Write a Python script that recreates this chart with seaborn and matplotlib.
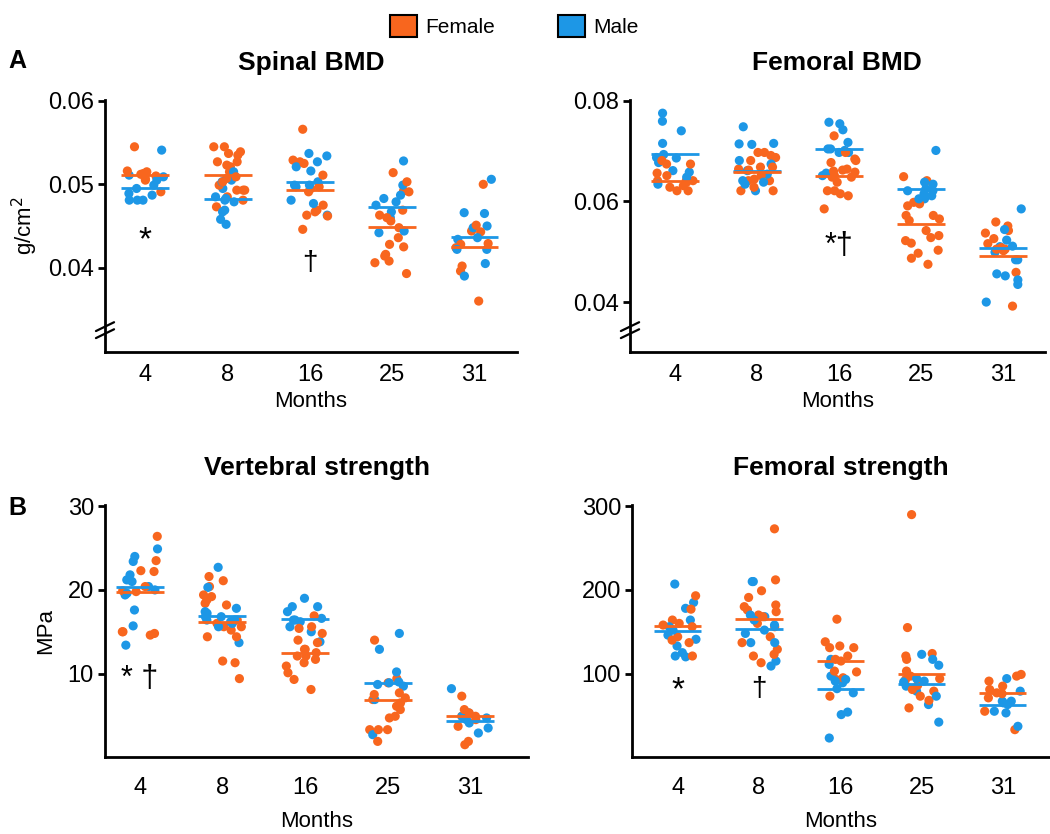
import numpy as np
import pandas as pd
import seaborn as sns
import matplotlib.pyplot as plt
from matplotlib.patches import Patch

months = ["4", "8", "16", "25", "31"]

# Spinal BMD (g/cm2), one list per month
spinal_female = [
    [0.0545, 0.0516, 0.0515, 0.0513, 0.0512, 0.0510, 0.0507, 0.0505, 0.0491],
    [0.0545, 0.0545, 0.0539, 0.0535, 0.0537, 0.0527, 0.0527, 0.0523, 0.0521, 0.0515,
     0.0509, 0.0507, 0.0503, 0.0499, 0.0493, 0.0493, 0.0493, 0.0485, 0.0481, 0.0473],
    [0.0566, 0.0527, 0.0529, 0.0525, 0.0511, 0.0491, 0.0497, 0.0475, 0.0469, 0.0463,
     0.0462, 0.0446, 0.0467, 0.0495],
    [0.0514, 0.0503, 0.0492, 0.0491, 0.0469, 0.0463, 0.0456, 0.0448, 0.0436, 0.0428,
     0.0425, 0.0416, 0.0414, 0.0406, 0.0393, 0.0408, 0.0460],
    [0.0500, 0.0451, 0.0444, 0.0443, 0.0429, 0.0428, 0.0402, 0.0396, 0.0360, 0.0424],
]
spinal_male = [
    [0.0541, 0.0511, 0.0505, 0.0499, 0.0495, 0.0487, 0.0489, 0.0481, 0.0481, 0.0481, 0.0509],
    [0.0515, 0.0505, 0.0503, 0.0495, 0.0485, 0.0483, 0.0481, 0.0479, 0.0458, 0.0452,
     0.0469, 0.0467],
    [0.0537, 0.0534, 0.0527, 0.0521, 0.0516, 0.0499, 0.0499, 0.0497, 0.0481, 0.0477,
     0.0463, 0.0503],
    [0.0528, 0.0499, 0.0487, 0.0483, 0.0475, 0.0467, 0.0460, 0.0442, 0.0444, 0.0479],
    [0.0506, 0.0465, 0.0466, 0.0448, 0.0450, 0.0436, 0.0422, 0.0422, 0.0405, 0.0390, 0.0434],
]
spinal_female_mean = [0.0511, 0.0511, 0.0493, 0.0449, 0.0425]
spinal_male_mean = [0.0495, 0.0482, 0.0503, 0.0473, 0.0437]

# Femoral BMD (g/cm2)
fbmd_female = [
    [0.0681, 0.0674, 0.0674, 0.0656, 0.0651, 0.0641, 0.0638, 0.0631, 0.0628, 0.0621,
     0.0621, 0.0641, 0.0641],
    [0.0697, 0.0697, 0.0687, 0.0691, 0.0681, 0.0668, 0.0664, 0.0662, 0.0651, 0.0668,
     0.0644, 0.0628, 0.0621, 0.0621, 0.0641, 0.0641],
    [0.0730, 0.0684, 0.0697, 0.0681, 0.0677, 0.0664, 0.0662, 0.0660, 0.0648, 0.0658,
     0.0648, 0.0621, 0.0615, 0.0611, 0.0621, 0.0585, 0.0651, 0.0638],
    [0.0649, 0.0641, 0.0595, 0.0591, 0.0572, 0.0572, 0.0565, 0.0562, 0.0542, 0.0528,
     0.0532, 0.0522, 0.0517, 0.0503, 0.0497, 0.0487, 0.0475, 0.0598],
    [0.0559, 0.0551, 0.0537, 0.0542, 0.0526, 0.0508, 0.0502, 0.0505, 0.0505, 0.0459,
     0.0392, 0.0516],
]
fbmd_male = [
    [0.0775, 0.0759, 0.0740, 0.0715, 0.0687, 0.0693, 0.0658, 0.0661, 0.0677, 0.0648,
     0.0634, 0.0686],
    [0.0748, 0.0714, 0.0715, 0.0713, 0.0674, 0.0681, 0.0661, 0.0654, 0.0641, 0.0634,
     0.0621, 0.0638],
    [0.0757, 0.0754, 0.0742, 0.0717, 0.0704, 0.0701, 0.0704, 0.0697, 0.0651, 0.0656, 0.0697],
    [0.0701, 0.0638, 0.0621, 0.0621, 0.0615, 0.0634, 0.0625, 0.0605, 0.0605, 0.0611],
    [0.0585, 0.0544, 0.0511, 0.0523, 0.0510, 0.0499, 0.0484, 0.0456, 0.0452, 0.0444,
     0.0435, 0.0400, 0.0484],
]
fbmd_female_mean = [0.0641, 0.0658, 0.0651, 0.0555, 0.0491]
fbmd_male_mean = [0.0693, 0.0661, 0.0703, 0.0625, 0.0507]

# Vertebral strength (MPa)
vert_female = [
    [26.4, 23.5, 22.2, 22.3, 19.8, 19.9, 15.0, 14.8, 14.6, 15.0, 20.4],
    [21.6, 21.1, 20.4, 19.2, 19.4, 18.8, 18.2, 18.4, 16.4, 15.6, 15.2, 14.4, 14.4,
     11.5, 11.3, 9.4, 15.6, 16.0],
    [16.9, 15.6, 15.4, 14.8, 13.7, 14.0, 12.9, 12.5, 12.1, 12.1, 11.3, 10.9, 10.1,
     9.3, 8.1, 12.9, 11.7],
    [14.0, 9.4, 8.9, 7.7, 7.5, 6.9, 6.5, 6.1, 5.7, 4.7, 4.9, 3.3, 3.3, 3.3, 1.9, 7.1],
    [7.3, 5.7, 5.3, 4.9, 4.9, 3.7, 1.9, 1.5, 4.5],
]
vert_male = [
    [24.9, 24.0, 23.4, 21.8, 21.2, 20.4, 19.6, 19.4, 17.6, 15.7, 13.4, 21.0, 20.0],
    [22.7, 20.3, 17.8, 17.4, 17.2, 16.8, 16.8, 16.4, 16.2, 16.0, 15.6, 13.7, 16.4],
    [19.0, 18.0, 18.0, 17.4, 16.6, 16.4, 16.2, 15.6, 15.0, 13.8, 16.4],
    [14.8, 12.9, 10.2, 9.0, 8.7, 8.9, 6.9, 2.7, 8.5],
    [8.2, 5.3, 4.9, 4.5, 4.1, 2.9, 4.7, 3.5],
]
vert_female_mean = [19.8, 16.2, 12.5, 6.8, 4.9]
vert_male_mean = [20.3, 16.9, 16.5, 8.9, 4.3]

# Femoral strength
fstr_female = [
    [193, 177, 164, 158, 160, 144, 137, 121, 140, 156],
    [273, 212, 199, 191, 182, 180, 174, 176, 168, 170, 160, 137, 144, 129, 123, 113, 121, 156],
    [165, 138, 131, 133, 131, 121, 115, 103, 102, 95, 93, 73, 117],
    [290, 155, 121, 124, 117, 103, 94, 97, 93, 86, 79, 73, 59, 68, 81],
    [99, 97, 91, 81, 77, 76, 71, 55, 33, 85],
]
fstr_male = [
    [207, 185, 178, 164, 156, 146, 141, 133, 121, 125, 120, 152],
    [210, 210, 170, 168, 164, 158, 148, 137, 137, 115, 109, 152],
    [117, 111, 97, 93, 91, 82, 77, 51, 54, 23, 89],
    [110, 123, 117, 94, 91, 90, 79, 73, 63, 42, 85],
    [94, 79, 67, 65, 67, 55, 53, 37, 63],
]
fstr_female_mean = [157, 165, 115, 99, 77]
fstr_male_mean = [151, 153, 81, 87, 63]

orange = "#F8661E"
blue = "#1D97E6"

sns.set_style("ticks")
plt.rcParams["font.family"] = ["Liberation Sans", "DejaVu Sans"]
plt.rcParams.update({"text.color": "black", "axes.labelcolor": "black",
                     "xtick.color": "black", "ytick.color": "black",
                     "axes.edgecolor": "black"})
np.random.seed(7)


def long_table(female, male):
    rows = []
    for m, fv, mv in zip(months, female, male):
        rows += [(m, "Female", v) for v in fv]
        rows += [(m, "Male", v) for v in mv]
    df = pd.DataFrame(rows, columns=["Months", "Sex", "value"])
    return df.sample(frac=1, random_state=4)


def panel(ax, female, male, f_mean, m_mean, title, ylim, yticks, ticklabels, xlim,
          brk=False, xpad=14, lpad=6):
    df = long_table(female, male)
    sns.stripplot(data=df, x="Months", y="value", hue="Sex", order=months,
                  palette={"Female": orange, "Male": blue}, jitter=0.23,
                  size=6.6, linewidth=0, legend=False, ax=ax)
    for i in range(len(months)):
        ax.hlines(m_mean[i], i - 0.29, i + 0.29, color=blue, lw=2, zorder=3)
        ax.hlines(f_mean[i], i - 0.29, i + 0.29, color=orange, lw=2, zorder=3)
    ax.set_ylim(*ylim)
    ax.set_xlim(*xlim)
    ax.set_yticks(yticks)
    ax.set_yticklabels(ticklabels)
    ax.set_title(title, fontsize=19, fontweight="bold", pad=22)
    ax.set_xlabel("Months", fontsize=16, labelpad=lpad)
    ax.set_ylabel("")
    sns.despine(ax=ax)
    for s in ("left", "bottom"):
        ax.spines[s].set_linewidth(2)
    ax.tick_params(axis="y", length=5, width=2, labelsize=17, pad=3)
    ax.tick_params(axis="x", length=0, labelsize=17, pad=xpad)
    if brk:
        for dy in (0.0, 0.028):
            ax.plot([-0.022, 0.022], [0.055 + dy, 0.09 + dy], color="black", lw=1.6,
                    transform=ax.transAxes, clip_on=False)


fig = plt.figure(figsize=(10.5, 8.34), dpi=100)
ax1 = fig.add_axes([0.100, 0.578, 0.392, 0.302])
ax2 = fig.add_axes([0.600, 0.578, 0.395, 0.302])
ax3 = fig.add_axes([0.100, 0.092, 0.403, 0.302])
ax4 = fig.add_axes([0.602, 0.092, 0.398, 0.302])

panel(ax1, spinal_female, spinal_male, spinal_female_mean, spinal_male_mean,
      "Spinal BMD", (0.0299, 0.0601), [0.04, 0.05, 0.06], ["0.04", "0.05", "0.06"],
      (-0.49, 4.51), brk=True, xpad=9, lpad=3)
panel(ax2, fbmd_female, fbmd_male, fbmd_female_mean, fbmd_male_mean,
      "Femoral BMD", (0.0301, 0.0801), [0.04, 0.06, 0.08], ["0.04", "0.06", "0.08"],
      (-0.55, 4.51), brk=True, xpad=9, lpad=3)
panel(ax3, vert_female, vert_male, vert_female_mean, vert_male_mean,
      "Vertebral strength", (0, 30.1), [10, 20, 30], ["10", "20", "30"], (-0.42, 4.7),
      xpad=14, lpad=9)
panel(ax4, fstr_female, fstr_male, fstr_female_mean, fstr_male_mean,
      "Femoral strength", (0, 301), [100, 200, 300], ["100", "200", "300"], (-0.56, 4.58),
      xpad=14, lpad=9)

ax1.set_ylabel("g/cm$^2$", fontsize=16, labelpad=6)
ax3.set_ylabel("MPa", fontsize=16, labelpad=8)

# significance marks
ax1.text(0, 0.0432, "*", fontsize=24, ha="center", va="center")
ax1.text(2, 0.0406, "\u2020", fontsize=20, ha="center", va="center")
ax2.text(2, 0.0511, "*\u2020", fontsize=22, ha="center", va="center")
ax3.text(0, 9.3, "* \u2020", fontsize=22, ha="center", va="center")
ax4.text(0, 79, "*", fontsize=24, ha="center", va="center")
ax4.text(1, 81, "\u2020", fontsize=20, ha="center", va="center")

fig.text(0.008, 0.918, "A", fontsize=18, fontweight="bold")
fig.text(0.008, 0.382, "B", fontsize=18, fontweight="bold")

handles = [Patch(facecolor=orange, edgecolor="black", lw=1.5),
           Patch(facecolor=blue, edgecolor="black", lw=1.5)]
fig.legend(handles, ["Female", "Male"], loc="upper center", bbox_to_anchor=(0.49, 1.005),
           ncol=2, frameon=False, fontsize=15, handlelength=1.3, handleheight=1.3,
           columnspacing=3.0, handletextpad=0.4)

fig.savefig("out.png", dpi=100)
